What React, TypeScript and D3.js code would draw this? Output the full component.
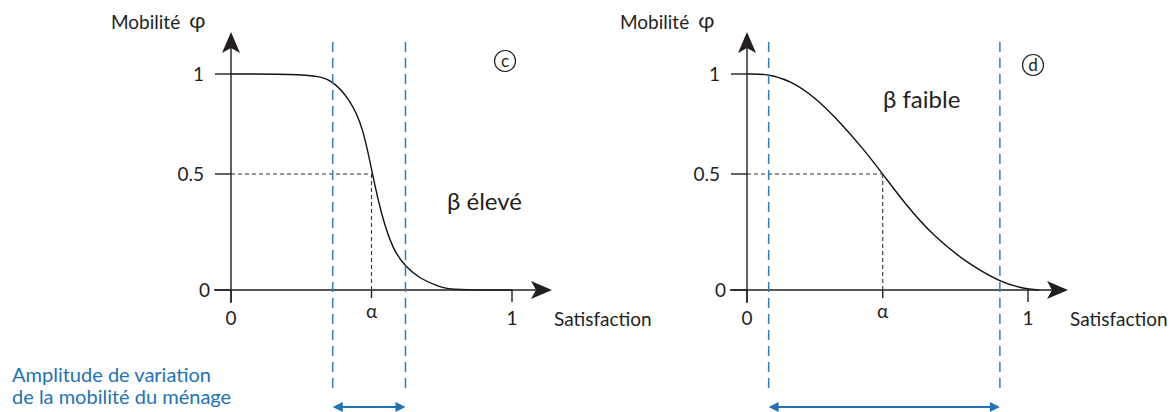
import * as d3 from "d3";

// y axis ticks (mobilité)
const yTicks = [0, 0.5, 1];
const yTickLabels = ["0", "0.5", "1"];
// x axis ticks (satisfaction)
const xTicks = [0, 1];
const xTickLabels = ["0", "1"];

// panel c : beta high
const satC = [0, 0.29, 0.362, 0.424, 0.47, 0.503, 0.537, 0.577, 0.621, 0.673, 0.745, 0.79, 1];
const mobC = [1, 1, 0.97, 0.87, 0.735, 0.5, 0.315, 0.172, 0.1, 0.048, 0.012, 0, 0];
const alphaC = 0.5;
const bandC = [0.362, 0.621];

// panel d : beta low
const satD = [0, 0.076, 0.154, 0.237, 0.331, 0.414, 0.483, 0.568, 0.663, 0.781, 0.9, 0.982, 1.04];
const mobD = [1, 1, 0.967, 0.89, 0.76, 0.625, 0.5, 0.363, 0.233, 0.118, 0.035, 0.006, 0];
const alphaD = 0.483;
const bandD = [0.077, 0.9];

const FONT = "Lato, 'Open Sans', sans-serif";
const INK = "#231f20";
const BLUE_LINE = "#2b80c5";
const BLUE = "#2272b8";

type PanelProps = {
  x0: number;
  sat: number[];
  mob: number[];
  alpha: number;
  band: number[];
  letter: string;
  letterAt: [number, number];
  note: string;
  noteAt: [number, number];
  titleDx: number;
};

const Panel = ({ x0, sat, mob, alpha, band, letter, letterAt, note, noteAt, titleDx }: PanelProps) => {
  const x = d3.scaleLinear().domain([0, 1]).range([x0, x0 + 281]);
  const y = d3.scaleLinear().domain([0, 0.5, 1]).range([290, 174, 74]);

  const pts = sat.map((s, i) => [s, mob[i]] as [number, number]);
  const line = d3
    .line<[number, number]>()
    .x(d => x(d[0]))
    .y(d => y(d[1]))
    .curve(d3.curveBasis);

  const ax = x(0);
  const ay = y(0);
  const yTop = y(1) - 42;
  const xEnd = x(1) + 40;
  const bl = x(band[0]);
  const br = x(band[1]);
  const ya = 407;

  return (
    <g>
      {/* curve */}
      <path d={line(pts) || ""} fill="none" stroke="#111" strokeWidth={1.4} />

      {/* guides at 0.5 */}
      <line x1={ax} x2={x(alpha)} y1={y(0.5)} y2={y(0.5)} stroke="#333" strokeWidth={1.1} strokeDasharray="4,3" />
      <line x1={x(alpha)} x2={x(alpha)} y1={y(0.5)} y2={ay} stroke="#333" strokeWidth={1.1} strokeDasharray="4,3" />

      {/* axes */}
      <line x1={ax} x2={ax} y1={ay + 13} y2={yTop + 14} stroke={INK} strokeWidth={1.4} />
      <path d={`M${ax},${yTop} L${ax + 9},${yTop + 21} L${ax},${yTop + 16} L${ax - 9},${yTop + 21} Z`} fill={INK} />
      <line x1={ax - 17} x2={xEnd - 14} y1={ay} y2={ay} stroke={INK} strokeWidth={1.4} />
      <path d={`M${xEnd},${ay} L${xEnd - 21},${ay - 9} L${xEnd - 16},${ay} L${xEnd - 21},${ay + 9} Z`} fill={INK} />

      {yTicks.map((t, i) => (
        <g key={"y" + i}>
          <line x1={ax - 16} x2={ax} y1={y(t)} y2={y(t)} stroke={INK} strokeWidth={1.4} />
          <text x={ax - (t === 0 ? 21 : 27)} y={y(t)} dy="0.35em" textAnchor="end" fontSize={19} fill={INK}>
            {yTickLabels[i]}
          </text>
        </g>
      ))}
      {xTicks.map((t, i) => (
        <g key={"x" + i}>
          <line x1={x(t)} x2={x(t)} y1={ay} y2={ay + 12} stroke={INK} strokeWidth={1.4} />
          <text x={x(t)} y={325} textAnchor="middle" fontSize={19} fill={INK}>
            {xTickLabels[i]}
          </text>
        </g>
      ))}
      <line x1={x(alpha)} x2={x(alpha)} y1={ay} y2={ay + 8} stroke={INK} strokeWidth={1.4} />
      <text x={x(alpha)} y={318} textAnchor="middle" fontSize={19} fill={INK}>
        α
      </text>

      {/* axis titles */}
      <text x={ax + titleDx} y={29} fontSize={19} fill={INK}>
        Mobilité
        <tspan dx={9} dy={-1} fontSize={22}>φ</tspan>
      </text>
      <text x={xEnd + 2} y={326} fontSize={19} fill={INK}>
        Satisfaction
      </text>

      {/* note and panel letter */}
      <text x={noteAt[0]} y={noteAt[1]} fontSize={24} fill={INK}>
        {note}
      </text>
      <circle cx={letterAt[0]} cy={letterAt[1]} r={10.5} fill="none" stroke={INK} strokeWidth={1.2} />
      <text x={letterAt[0]} y={letterAt[1]} dy="0.35em" textAnchor="middle" fontSize={17} fill={INK}>
        {letter}
      </text>

      {/* amplitude band */}
      {[bl, br].map((bx, i) => (
        <line key={"b" + i} x1={bx} x2={bx} y1={42} y2={388} stroke={BLUE_LINE} strokeWidth={1.5} strokeDasharray="10,6" />
      ))}
      <line x1={bl + 6} x2={br - 6} y1={ya} y2={ya} stroke={BLUE} strokeWidth={2} />
      <path d={`M${bl},${ya} L${bl + 10},${ya - 5} L${bl + 10},${ya + 5} Z`} fill={BLUE} />
      <path d={`M${br},${ya} L${br - 10},${ya - 5} L${br - 10},${ya + 5} Z`} fill={BLUE} />
    </g>
  );
};

export default function App() {
  return (
    <svg
      width={1171}
      height={412}
      style={{ position: "absolute", left: 0, top: 0, display: "block", fontFamily: FONT }}
    >
      <rect width={1171} height={412} fill="#fff" />
      <Panel
        x0={231}
        sat={satC}
        mob={mobC}
        alpha={alphaC}
        band={bandC}
        letter="c"
        letterAt={[505, 61]}
        note="β élevé"
        noteAt={[447, 210]}
        titleDx={-120}
      />
      <Panel
        x0={747}
        sat={satD}
        mob={mobD}
        alpha={alphaD}
        band={bandD}
        letter="d"
        letterAt={[1033, 65]}
        note="β faible"
        noteAt={[883, 108]}
        titleDx={-127}
      />
      <text x={12} y={382} fontSize={20} fill={BLUE}>
        Amplitude de variation
      </text>
      <text x={12} y={404} fontSize={20} fill={BLUE}>
        de la mobilité du ménage
      </text>
    </svg>
  );
}
